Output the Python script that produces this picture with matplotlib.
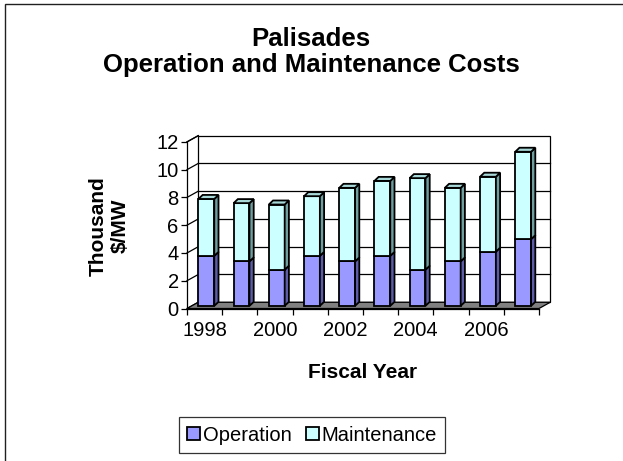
import numpy as np
import matplotlib.pyplot as plt
from matplotlib.patches import Polygon, Rectangle, Patch

plt.rcParams["font.family"] = ["Liberation Sans", "DejaVu Sans"]

years = [1998, 1999, 2000, 2001, 2002, 2003, 2004, 2005, 2006, 2007]
operation = [3.6, 3.2, 2.6, 3.6, 3.2, 3.6, 2.6, 3.2, 3.9, 4.8]
maintenance = [4.1, 4.2, 4.7, 4.3, 5.3, 5.4, 6.6, 5.3, 5.4, 6.3]
yticks = [0, 2, 4, 6, 8, 10, 12]

W, H = 623, 461
fig = plt.figure(figsize=(W / 100, H / 100), dpi=100)
ax = fig.add_axes([187 / W, 1 - 308.5 / H, 352 / W, 166.6 / H])

n = len(years)
ymax = yticks[-1]
ax.set_xlim(0, n)
ax.set_ylim(0, ymax)

# depth of the 3d box and of each bar (data units)
DX, DY = 0.32, 0.45
BW, BX, BY = 0.45, 0.05, 0.19
BDX, BDY = 0.12, 0.29

# ------------------------------
# Walls and floor
ax.add_patch(Rectangle((DX, DY), n, ymax, fc="white", ec="black", lw=0.9,
                       zorder=0, clip_on=False))
for y in yticks[1:-1]:
    ax.plot([DX, n + DX], [y + DY, y + DY], c="black", lw=0.9, zorder=0.5,
            clip_on=False)
for y in yticks:
    ax.plot([0, DX], [y, y + DY], c="black", lw=0.9, zorder=0.5, clip_on=False)
ax.plot([0, DX], [ymax, ymax + DY], c="black", lw=0.9, clip_on=False)
ax.add_patch(Polygon([(0, 0), (n, 0), (n + DX, DY), (DX, DY)], closed=True,
                     fc="#808080", ec="black", lw=0.9, zorder=1, clip_on=False))

# ------------------------------
# Bars
colors = {
    "op": ("#9999FF", "#5C5CA8", "#7F7FD6"),
    "mt": ("#CCFFFF", "#6E9E9E", "#A8D8D8"),
}


def draw_segment(x0, y0, y1, cols, top, z):
    front, side, topc = cols
    ax.add_patch(Rectangle((x0, y0), BW, y1 - y0, fc=front, ec="black", lw=1.3,
                           zorder=z, clip_on=False))
    ax.add_patch(Polygon([(x0 + BW, y0), (x0 + BW + BDX, y0 + BDY),
                          (x0 + BW + BDX, y1 + BDY), (x0 + BW, y1)],
                         closed=True, fc=side, ec="black", lw=1.3, zorder=z,
                         clip_on=False))
    if top:
        ax.add_patch(Polygon([(x0, y1), (x0 + BDX, y1 + BDY),
                              (x0 + BW + BDX, y1 + BDY), (x0 + BW, y1)],
                             closed=True, fc=topc, ec="black", lw=1.3,
                             zorder=z, clip_on=False))


for i in range(n):
    x0 = i + 0.5 + BX - BW / 2
    op = operation[i]
    tot = op + maintenance[i]
    draw_segment(x0, BY, op + BY, colors["op"], False, 3)
    draw_segment(x0, op + BY, tot + BY, colors["mt"], True, 4)

# ------------------------------
# Axes, ticks
for s in ["top", "right"]:
    ax.spines[s].set_visible(False)
ax.spines["left"].set_linewidth(0.9)
ax.spines["bottom"].set_linewidth(0.9)
ax.spines["left"].set_zorder(5)

ax.set_yticks(yticks)
ax.tick_params(axis="y", length=4.5, width=0.9, pad=1.5, labelsize=14.5)
ax.set_xticks(np.arange(n + 1))
ax.set_xticklabels([])
ax.tick_params(axis="x", which="major", length=4, width=0.9)
ax.set_xticks(np.arange(0, n, 2) + 0.5, minor=True)
ax.set_xticklabels([str(years[i]) for i in range(0, n, 2)], minor=True)
ax.tick_params(axis="x", which="minor", length=0, pad=9, labelsize=14.5)

# ------------------------------
# Texts
fig.text(311 / W, 1 - 52 / H, "Palisades\nOperation and Maintenance Costs",
         ha="center", va="center", fontsize=18.5, fontweight="bold",
         linespacing=1.15)
fig.text(109 / W, 1 - 226 / H, "Thousand\n$/MW", rotation=90, ha="center",
         va="center", fontsize=15, fontweight="bold", linespacing=1.2,
         multialignment="center")
fig.text(363 / W, 1 - 373 / H, "Fiscal Year", ha="center", va="center",
         fontsize=15, fontweight="bold")

handles = [
    Patch(fc=colors["op"][0], ec="black", lw=1.3, label="Operation"),
    Patch(fc=colors["mt"][0], ec="black", lw=1.3, label="Maintenance"),
]
leg = fig.legend(handles=handles, loc="center", bbox_to_anchor=(312 / W, 1 - 435 / H),
                 ncol=2, fontsize=14.5, frameon=True, fancybox=False,
                 handlelength=0.65, handleheight=0.65, handletextpad=0.15,
                 columnspacing=0.7, borderpad=0.4, borderaxespad=0)
leg.get_frame().set_edgecolor("black")
leg.get_frame().set_linewidth(0.9)

# chart border
fig.add_artist(Rectangle((4.5 / W, -0.1), 1.2, 1.1 - 4.5 / H, transform=fig.transFigure,
                         fill=False, ec="#202020", lw=1.0))

fig.savefig("out.png", dpi=100)
